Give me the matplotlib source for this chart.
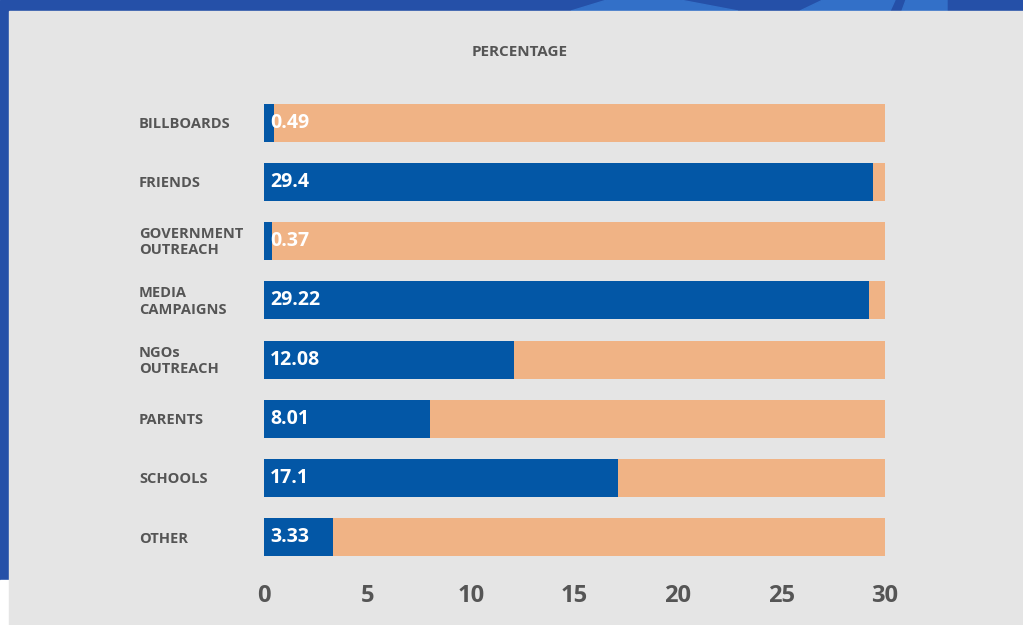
import matplotlib.pyplot as plt
from matplotlib.patches import Rectangle, Polygon

# ---- data ----
categories = ["BILLBOARDS", "FRIENDS", "GOVERNMENT\nOUTREACH", "MEDIA\nCAMPAIGNS",
              "NGOs\nOUTREACH", "PARENTS", "SCHOOLS", "OTHER"]
values = [0.49, 29.4, 0.37, 29.22, 12.08, 8.01, 17.1, 3.33]
scale_max = 30
xticks = [0, 5, 10, 15, 20, 25, 30]

BLUE = "#0357a6"
PEACH = "#f0b385"
PANEL = "#e5e5e5"
FRAME = "#2550a8"
TEXT = "#555555"
FONT = ["Open Sans", "DejaVu Sans"]

W, H = 1023, 625
fig = plt.figure(figsize=(W / 100, H / 100), dpi=100)
fig.patch.set_facecolor("white")


def px(x, y):
    """pixel position (from top-left) -> figure fraction"""
    return x / W, 1 - y / H


# frame: blue strip on top/left, grey panel
fig.patches.append(Rectangle((0, 0), 1, 1, transform=fig.transFigure,
                             color=FRAME, zorder=-3))
fig.patches.append(Rectangle((0, 0), 9 / W, 45 / H, transform=fig.transFigure,
                             color="white", zorder=-2))
fig.patches.append(Rectangle((9 / W, 0), 1, 1 - 11 / H, transform=fig.transFigure,
                             color=PANEL, zorder=-1))
# lighter shapes in the top band
for pts in [[(571, 11), (607, 0), (680, 0), (738, 11)],
            [(800, 11), (823, 0), (895, 0), (890, 11)],
            [(902, 11), (906, 0), (947, 0), (947, 11)]]:
    fig.patches.append(Polygon([px(x, y) for x, y in pts],
                               transform=fig.transFigure, color="#3370c8", zorder=-2))

ax = fig.add_axes([264 / W, 1 - 567 / H, (885 - 264) / W, (567 - 93) / H])
ax.set_facecolor("none")

rows = range(len(categories))
ax.barh(rows, [scale_max] * len(values), height=0.64, color=PEACH, zorder=1)
ax.barh(rows, values, height=0.64, color=BLUE, zorder=2)

# value labels inside the bars
for i, v in enumerate(values):
    ax.text(0.3, i, f"{v:g}", color="white", fontsize=14, fontweight="bold",
            family=FONT, va="center", ha="left", zorder=3)

# category labels in the left margin
label_x = -125 / (885 - 264) * scale_max
for i, c in enumerate(categories):
    ax.text(label_x, i + 0.02, c, fontsize=10.5, fontweight="bold", color=TEXT,
            family=FONT, ha="left", va="center", linespacing=1.2, clip_on=False)

ax.set_xlim(0, scale_max)
ax.set_ylim(len(categories) - 0.5, -0.5)
ax.set_yticks([])
ax.set_xticks(xticks)
ax.set_xticklabels([str(t) for t in xticks], fontsize=17, fontweight="bold",
                   color=TEXT, family=FONT)
ax.tick_params(axis="x", length=0, pad=12)
for s in ax.spines.values():
    s.set_visible(False)

fig.text(*px(520, 52), "PERCENTAGE", fontsize=11, fontweight="bold",
         color=TEXT, family=FONT, ha="center", va="center")

fig.savefig("out.png", dpi=100, facecolor=fig.get_facecolor())
